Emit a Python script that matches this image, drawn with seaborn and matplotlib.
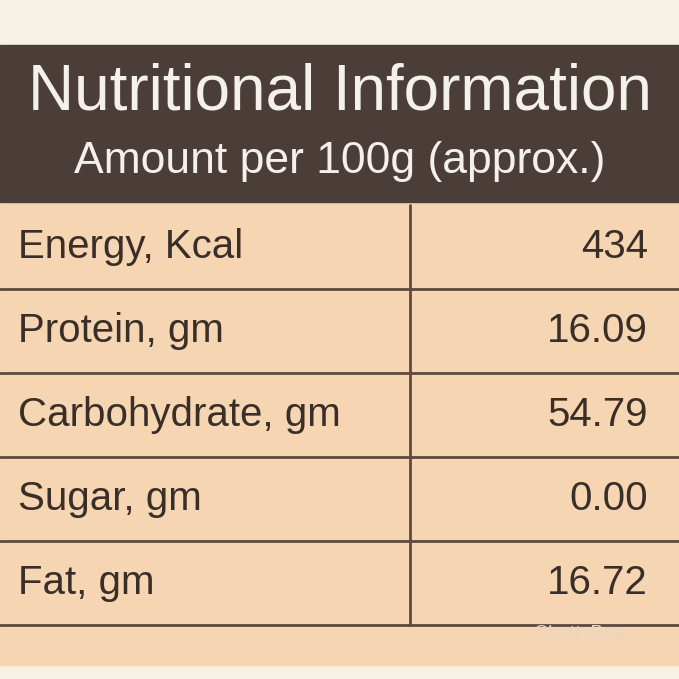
import matplotlib
matplotlib.use("Agg")
import matplotlib.pyplot as plt
import seaborn as sns
import pandas as pd

title = "Nutritional Information"
subtitle = "Amount per 100g (approx.)"
nutrients = ["Energy, Kcal", "Protein, gm", "Carbohydrate, gm", "Sugar, gm", "Fat, gm"]
values = ["434", "16.09", "54.79", "0.00", "16.72"]

sns.set_theme(style="white")
plt.rcParams['font.family'] = ['Liberation Sans', 'DejaVu Sans']

df = pd.DataFrame({"nutrient": nutrients, "value": values})

fig = plt.figure(figsize=(6.79, 6.79), dpi=100)
ax = fig.add_axes([0, 0, 1, 1])
ax.set_xlim(0, 679)
ax.set_ylim(679, 0)
ax.axis("off")
fig.patch.set_facecolor("#f7f1e3")

line_c = "#5a4a40"
ax.add_patch(plt.Rectangle((0, 200), 679, 465, color="#f6d6b2", zorder=0))
ax.add_patch(plt.Rectangle((0, 45), 679, 157, color="#4b3d37", zorder=1))
ax.text(340, 93, title, color="#f4f0ea", fontsize=46, ha="center", va="center", zorder=2)
ax.text(340, 161, subtitle, color="#f4f0ea", fontsize=32, ha="center", va="center", zorder=2)

top = 205
h = 84
for i, row in df.iterrows():
    y0 = top + i * h
    ax.plot([0, 679], [y0 + h, y0 + h], color=line_c, lw=2, zorder=2)
    ax.text(18, y0 + h / 2, row["nutrient"], fontsize=29, color="#3a2e28",
            ha="left", va="center", zorder=3)
    ax.text(648, y0 + h / 2, row["value"], fontsize=29, color="#3a2e28",
            ha="right", va="center", zorder=3)
ax.plot([410, 410], [top, top + 5 * h], color=line_c, lw=2, zorder=2)
ax.text(580, 633, "ChattyBao", fontsize=14, color="#e6d6c4", ha="center", va="center")

fig.savefig("out.png", dpi=100, facecolor=fig.get_facecolor())
